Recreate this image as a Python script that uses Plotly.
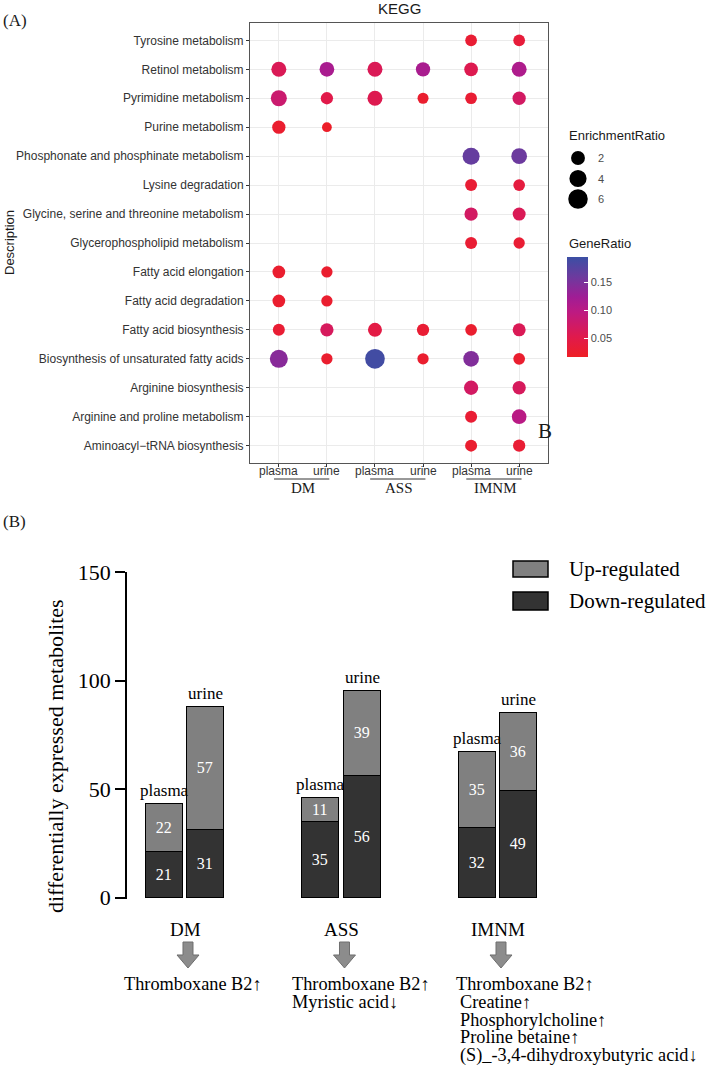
import math
import plotly.graph_objects as go

W, H = 709, 1065
def px(x): return x / W
def py(y): return 1 - y / H

SANS = "Arial, Liberation Sans, Helvetica, sans-serif"
SERIF = "Times New Roman, Liberation Serif, serif"

# ---------------- Panel A data ----------------
pathways = ["Tyrosine metabolism", "Retinol metabolism", "Pyrimidine metabolism", "Purine metabolism",
            "Phosphonate and phosphinate metabolism", "Lysine degradation",
            "Glycine, serine and threonine metabolism", "Glycerophospholipid metabolism",
            "Fatty acid elongation", "Fatty acid degradation", "Fatty acid biosynthesis",
            "Biosynthesis of unsaturated fatty acids", "Arginine biosynthesis",
            "Arginine and proline metabolism", "Aminoacyl\u2212tRNA biosynthesis"]
diseases = ["DM", "ASS", "IMNM"]
specimens = ["plasma", "urine"]
x_labels = ["plasma", "urine", "plasma", "urine", "plasma", "urine"]

N = None
gr_DM_plasma = [N, 0.06, 0.08, 0.025, N, N, N, N, 0.025, 0.025, 0.03, 0.14, N, N, N]
er_DM_plasma = [N, 2.56, 3.16, 1.77, N, N, N, N, 1.56, 1.56, 1.35, 4.64, N, N, N]
gr_DM_urine = [N, 0.115, 0.05, 0.02, N, N, N, N, 0.025, 0.025, 0.065, 0.025, N, N, N]
er_DM_urine = [N, 2.40, 1.43, 1.01, N, N, N, N, 1.19, 1.19, 1.77, 1.19, N, N, N]
gr_ASS_plasma = [N, 0.06, 0.055, N, N, N, N, N, N, N, 0.045, 0.19, N, N, N]
er_ASS_plasma = [N, 2.56, 2.56, N, N, N, N, N, N, N, 2.06, 6.2, N, N, N]
gr_ASS_urine = [N, 0.115, 0.025, N, N, N, N, N, N, N, 0.03, 0.025, N, N, N]
er_ASS_urine = [N, 2.20, 1.14, N, N, N, N, N, N, N, 1.43, 1.19, N, N, N]
gr_IMNM_plasma = [0.03, 0.055, 0.03, N, 0.165, 0.03, 0.07, 0.03, N, N, 0.025, 0.145, 0.07, 0.03, 0.025]
er_IMNM_plasma = [1.28, 1.93, 1.28, N, 3.85, 1.35, 1.77, 1.35, N, N, 1.28, 2.97, 2.20, 1.35, 1.35]
gr_IMNM_urine = [0.035, 0.11, 0.07, N, 0.16, 0.04, 0.06, 0.03, N, N, 0.06, 0.025, 0.065, 0.10, 0.03]
er_IMNM_urine = [1.28, 2.56, 1.77, N, 2.97, 1.28, 1.66, 1.19, N, N, 1.66, 1.28, 1.77, 2.40, 1.43]

size_legend_values = [2, 4, 6]
gene_ratio_ticks = [0.05, 0.10, 0.15]

# ---------------- Panel B data ----------------
down_plasma = [21, 35, 32]
up_plasma = [22, 11, 35]
down_urine = [31, 56, 49]
up_urine = [57, 39, 36]
notes_DM = ["Thromboxane B2\u2191"]
notes_ASS = ["Thromboxane B2\u2191", "Myristic acid\u2193"]
notes_IMNM = ["Thromboxane B2\u2191", "Creatine\u2191", "Phosphorylcholine\u2191",
              "Proline betaine\u2191", "(S)_-3,4-dihydroxybutyric acid\u2193"]

# ---------------- styles ----------------
def dot_size(er):
    return 9.3 + 10.7 * math.sqrt(max(er - 1, 0) / 5.5)

colorscale = [[0.0, "#ee1f25"], [0.2, "#e01a4c"], [0.45, "#bd1a82"],
              [0.6, "#a01d95"], [0.8, "#6d3a9e"], [1.0, "#3b4fa4"]]
CMIN, CMAX = 0.016, 0.195

cols_gr = [gr_DM_plasma, gr_DM_urine, gr_ASS_plasma, gr_ASS_urine, gr_IMNM_plasma, gr_IMNM_urine]
cols_er = [er_DM_plasma, er_DM_urine, er_ASS_plasma, er_ASS_urine, er_IMNM_plasma, er_IMNM_urine]
xs, ys, cs, ss = [], [], [], []
for ci, (g, e) in enumerate(zip(cols_gr, cols_er)):
    for ri in range(len(pathways)):
        if g[ri] is not None:
            xs.append(ci); ys.append(ri); cs.append(g[ri]); ss.append(dot_size(e[ri]))

fig = go.Figure()
fig.add_trace(go.Scatter(
    x=xs, y=ys, mode="markers", xaxis="x", yaxis="y", showlegend=False,
    marker=dict(size=ss, color=cs, colorscale=colorscale, cmin=CMIN, cmax=CMAX,
                line=dict(width=0), opacity=1,
                colorbar=dict(x=px(567), xanchor="left", y=py(307), yanchor="middle",
                              len=100, lenmode="pixels", thickness=21, thicknessmode="pixels",
                              tickvals=gene_ratio_ticks, ticktext=["%.2f" % v for v in gene_ratio_ticks],
                              ticks="inside", tickcolor="white", ticklen=4, tickwidth=1,
                              tickfont=dict(family=SANS, size=11, color="#4d4d4d"),
                              outlinewidth=0, xpad=0, ypad=0))))

# ---------------- Panel B bars ----------------
GX0, GDX = 185, 156.5   # pixel of group 0 centre, pixel per group
BX0, BX1 = 127, 600
xr = [(BX0 - GX0) / GDX, (BX1 - GX0) / GDX]
OFF = 20.75 / GDX
BW = 37 / GDX
gidx = list(range(len(diseases)))
bar_common = dict(xaxis="x2", yaxis="y2", width=BW, showlegend=False,
                  textposition="inside", insidetextanchor="middle", textangle=0,
                  textfont=dict(family=SERIF, size=16, color="white"))
for vals, xoff, col in [(down_plasma, -OFF, "#333333"), (up_plasma, -OFF, "#808080"),
                        (down_urine, OFF, "#333333"), (up_urine, OFF, "#808080")]:
    fig.add_trace(go.Bar(x=[g + xoff for g in gidx], y=vals, text=[str(v) for v in vals],
                         marker=dict(color=col, line=dict(color="black", width=1.5)),
                         **bar_common))

annotations = []
shapes = []

# specimen labels above bars
for g in gidx:
    annotations.append(dict(x=g - OFF, y=down_plasma[g] + up_plasma[g], xref="x2", yref="y2",
                            text=specimens[0], showarrow=False, yanchor="bottom", yshift=2,
                            font=dict(family=SERIF, size=17, color="black")))
    annotations.append(dict(x=g + OFF, y=down_urine[g] + up_urine[g], xref="x2", yref="y2",
                            text=specimens[1], showarrow=False, yanchor="bottom", yshift=2,
                            font=dict(family=SERIF, size=17, color="black")))
    # disease labels
    annotations.append(dict(x=g, y=py(929), xref="x2", yref="paper", text=diseases[g],
                            showarrow=False, yanchor="middle",
                            font=dict(family=SERIF, size=19, color="black")))
    # block arrow
    cx = GX0 + g * GDX + 3
    pts = [(cx - 5, 942), (cx + 5, 942), (cx + 5, 955), (cx + 11, 955), (cx, 968),
           (cx - 11, 955), (cx - 5, 955)]
    path = "M " + " L ".join("%.5f,%.5f" % (px(a), py(b)) for a, b in pts) + " Z"
    shapes.append(dict(type="path", path=path, xref="paper", yref="paper",
                       fillcolor="#8c8c8c", line=dict(color="#6e6e6e", width=1)))

# notes below arrows
LINE0, LSTEP = 984, 17.8
NOTE_FONT = dict(family=SERIF, size=18.3, color="black")
annotations.append(dict(x=px(193), y=py(LINE0), xref="paper", yref="paper", text=notes_DM[0],
                        showarrow=False, xanchor="center", yanchor="middle", font=NOTE_FONT))
for i, t in enumerate(notes_ASS):
    annotations.append(dict(x=px(290), y=py(LINE0 + i * LSTEP), xref="paper", yref="paper", text=t,
                            showarrow=False, xanchor="left", yanchor="middle", font=NOTE_FONT))
for i, t in enumerate(notes_IMNM):
    annotations.append(dict(x=px(454 if i == 0 else 458), y=py(LINE0 + i * LSTEP), xref="paper",
                            yref="paper", text=t, showarrow=False, xanchor="left", yanchor="middle",
                            font=NOTE_FONT))

# bar legend
for yy0, yy1, col, lab, ty in [(561, 577, "#808080", "Up-regulated", 569),
                               (592, 610, "#333333", "Down-regulated", 601)]:
    shapes.append(dict(type="rect", xref="paper", yref="paper", x0=px(513), x1=px(548),
                       y0=py(yy1), y1=py(yy0), fillcolor=col, line=dict(color="black", width=1.5)))
    annotations.append(dict(x=px(567), y=py(ty), xref="paper", yref="paper", text=lab,
                            showarrow=False, xanchor="left", yanchor="middle",
                            font=dict(family=SERIF, size=21, color="black")))

annotations.append(dict(x=px(55), y=py(756), xref="paper", yref="paper",
                        text="differentially expressed metabolites", textangle=-90,
                        showarrow=False, xanchor="center", yanchor="middle",
                        font=dict(family=SERIF, size=22, color="black")))

# ---------------- Panel A extra text ----------------
annotations.append(dict(x=px(399), y=py(9), xref="paper", yref="paper", text="KEGG",
                        showarrow=False, xanchor="center", yanchor="middle",
                        font=dict(family=SANS, size=15, color="#1a1a1a")))
annotations.append(dict(x=px(9), y=py(243), xref="paper", yref="paper", text="Description",
                        textangle=-90, showarrow=False, xanchor="center", yanchor="middle",
                        font=dict(family=SANS, size=13, color="#1a1a1a")))
for ci, lab in enumerate(x_labels):
    annotations.append(dict(x=ci, y=py(471), xref="x", yref="paper", text=lab,
                            showarrow=False, xanchor="center", yanchor="middle",
                            font=dict(family=SANS, size=12, color="#333333")))
for g in gidx:
    annotations.append(dict(x=2 * g + 0.5, y=py(488), xref="x", yref="paper", text=diseases[g],
                            showarrow=False, xanchor="center", yanchor="middle",
                            font=dict(family=SERIF, size=15, color="#1a1a1a")))
    shapes.append(dict(type="line", xref="x", yref="paper", x0=2 * g - 0.1, x1=2 * g + 1.05,
                       y0=py(479), y1=py(479), line=dict(color="#333333", width=1)))

annotations.append(dict(x=px(567), y=py(135), xref="paper", yref="paper", text="EnrichmentRatio",
                        showarrow=False, xanchor="left", yanchor="middle",
                        font=dict(family=SANS, size=13, color="#1a1a1a")))
for v, yc in zip(size_legend_values, [158, 178.5, 199]):
    d = dot_size(v)
    shapes.append(dict(type="circle", xref="paper", yref="paper", x0=px(578 - d / 2), x1=px(578 + d / 2),
                       y0=py(yc + d / 2), y1=py(yc - d / 2), fillcolor="black", line=dict(width=0)))
    annotations.append(dict(x=px(596), y=py(yc), xref="paper", yref="paper", text=str(v),
                            showarrow=False, xanchor="left", yanchor="middle",
                            font=dict(family=SANS, size=11, color="#4d4d4d")))
annotations.append(dict(x=px(567), y=py(243), xref="paper", yref="paper", text="GeneRatio",
                        showarrow=False, xanchor="left", yanchor="middle",
                        font=dict(family=SANS, size=13, color="#1a1a1a")))

annotations.append(dict(x=px(1), y=py(21), xref="paper", yref="paper", text="(A)",
                        showarrow=False, xanchor="left", yanchor="middle",
                        font=dict(family=SERIF, size=17, color="#1a1a1a")))
annotations.append(dict(x=px(1), y=py(521), xref="paper", yref="paper", text="(B)",
                        showarrow=False, xanchor="left", yanchor="middle",
                        font=dict(family=SERIF, size=17, color="#1a1a1a")))
annotations.append(dict(x=px(545), y=py(431), xref="paper", yref="paper", text="B",
                        showarrow=False, xanchor="center", yanchor="middle",
                        font=dict(family=SERIF, size=21, color="#1a1a1a")))

fig.update_layout(
    width=W, height=H, margin=dict(l=0, r=0, t=0, b=0),
    paper_bgcolor="white", plot_bgcolor="white", barmode="stack", bargap=0,
    xaxis=dict(domain=[px(250), px(548)], range=[-0.6, 5.6], tickvals=list(range(6)),
               showticklabels=False, showgrid=True, gridcolor="#ebebeb", gridwidth=1.2,
               zeroline=False, showline=True, mirror=True, linecolor="#555555", linewidth=1,
               ticks="outside", ticklen=3, tickcolor="#333333", automargin=False,
               anchor="y"),
    yaxis=dict(domain=[py(463), py(23)], range=[len(pathways) - 0.4, -0.6],
               tickvals=list(range(len(pathways))), ticktext=pathways, showgrid=True,
               gridcolor="#ebebeb", gridwidth=1.2, zeroline=False, showline=True, mirror=True,
               linecolor="#555555", linewidth=1, ticks="outside", ticklen=3, tickcolor="#333333",
               tickfont=dict(family=SANS, size=12, color="#333333"), automargin=False,
               anchor="x"),
    xaxis2=dict(domain=[px(BX0), px(BX1)], range=xr, visible=False, anchor="y2"),
    yaxis2=dict(domain=[py(899), py(572)], range=[-0.6, 150], tickvals=[0, 50, 100, 150],
                showgrid=False, zeroline=False, showline=True, linecolor="black", linewidth=1.5,
                ticks="outside", ticklen=10, tickwidth=1.5, tickcolor="black",
                tickfont=dict(family=SERIF, size=22, color="black"), automargin=False,
                anchor="x2"),
    annotations=annotations, shapes=shapes,
)
fig.write_html("out.html", config={"displayModeBar": False},
               post_script="document.body.style.margin='0';document.body.style.padding='0';"
                           "document.body.style.overflow='hidden';")
